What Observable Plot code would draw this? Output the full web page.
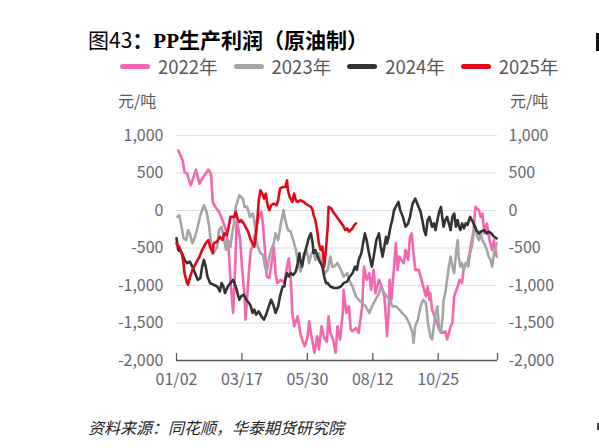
<!DOCTYPE html>
<html>
<head>
<meta charset="utf-8">
<script src="https://cdn.jsdelivr.net/npm/d3@7"></script>
<script src="https://cdn.jsdelivr.net/npm/@observablehq/plot@0.6"></script>
<style>
  html, body { margin: 0; padding: 0; background: #fff; }
  body { width: 599px; height: 448px; position: relative; overflow: hidden;
         font-family: "Noto Sans CJK SC", "Noto Sans", sans-serif; }
  .abs { position: absolute; white-space: nowrap; }
  #title { left: 88px; top: 26px; font-size: 21px; line-height: 27px; color: #000; }
  #title b { font-weight: 700; }
  #title .pp { font-family: "Liberation Serif", serif; font-weight: 700; }
  #legend { left: 120px; top: 54px; display: flex; gap: 16px; font-size: 18.5px; line-height: 24px; color: #595959; }
  #legend .item { display: flex; align-items: center; }
  #legend .sw { width: 30px; height: 5px; border-radius: 3px; margin-right: 8px; }
  .unit { top: 89px; font-size: 16px; line-height: 22px; color: #595959; }
  #source { left: 88px; top: 416px; font-size: 16px; line-height: 22px; font-style: italic; color: #222; }
  #chart { left: 0; top: 120px; }
  .edge { position: absolute; background: #111; }
</style>
</head>
<body>
<div id="title" class="abs">图43<b>：</b><span class="pp">PP</span><b>生产利润（原油制）</b></div>
<div id="legend" class="abs"></div>
<div class="abs unit" style="left:118px">元/吨</div>
<div class="abs unit" style="left:510px">元/吨</div>
<div id="chart" class="abs"></div>
<div id="source" class="abs">资料来源：同花顺，华泰期货研究院</div>
<div class="edge" style="left:596px; top:33px; width:3px; height:18px;"></div>
<div class="edge" style="left:597px; top:423px; width:2px; height:7px; background:#444;"></div>
<script>
// [day of year, 元/吨]
const p2022 = [[4,800],[9,667],[11,512],[14,495],[18,335],[24,544],[28,358],[31,424],[38,544],[41,490],[43,114],[46,48],[50,-18],[54,-129],[58,-261],[61,-527],[63,-924],[66,-1366],[68,-880],[70,-150],[72,-250],[74,-394],[76,-748],[79,-1146],[80,-1455],[82,-1146],[84,-792],[86,-527],[88,-480],[94,-129],[98,-18],[100,-217],[102,-527],[104,-880],[107,-900],[109,-748],[112,-483],[114,-836],[116,-968],[120,-924],[124,-968],[127,-748],[129,-637],[131,-880],[133,-1366],[135,-1544],[139,-1411],[142,-1631],[144,-1720],[147,-1809],[150,-1700],[152,-1477],[155,-1700],[158,-1897],[161,-1676],[163,-1853],[166,-1544],[169,-1700],[172,-1750],[174,-1411],[176,-1631],[179,-1720],[182,-1897],[184,-1544],[187,-1720],[190,-1366],[191,-1057],[194,-1366],[197,-1278],[199,-1587],[201,-1610],[205,-1565],[208,-1631],[212,-1278],[214,-748],[217,-924],[220,-836],[222,-1057],[225,-792],[227,-1101],[231,-924],[234,-1013],[237,-1146],[239,-1455],[240,-1676],[242,-1366],[243,-924],[245,-1190],[248,-748],[250,-438],[252,-792],[254,-615],[256,-659],[259,-703],[261,-527],[264,-659],[266,-350],[268,-305],[270,-570],[272,-792],[276,-792],[280,-968],[284,-1146],[286,-1013],[288,-1190],[289,-1101],[291,-1322],[295,-1455],[299,-1587],[303,-1631],[306,-1610],[308,-1720],[312,-1544],[314,-1499],[316,-1146],[320,-1013],[322,-924],[325,-968],[327,-748],[331,-703],[334,-527],[338,-261],[340,48],[344,4],[346,-85],[348,-40],[350,-305],[353,-172],[356,-394],[359,-527],[361,-394],[364,-615]];
const p2023 = [[3,-85],[5,-62],[7,-172],[10,-371],[13,-394],[15,-261],[17,-305],[20,-438],[23,-350],[26,-217],[29,-62],[33,70],[36,-18],[39,-217],[41,-438],[43,-549],[44,-570],[48,-483],[50,-261],[53,-217],[56,-394],[58,-527],[60,-394],[63,-483],[65,-305],[67,-172],[69,48],[73,203],[77,158],[79,48],[82,48],[85,-85],[88,-40],[90,-129],[92,-394],[94,-483],[97,-570],[100,-593],[102,-748],[104,-814],[107,-615],[109,-527],[112,-438],[114,-305],[117,-394],[120,-172],[123,4],[125,-129],[128,-261],[131,-283],[134,-394],[137,-527],[139,-659],[142,-814],[144,-748],[146,-570],[149,-527],[152,-703],[154,-593],[157,-527],[159,-659],[163,-570],[167,-748],[170,-836],[173,-792],[176,-615],[178,-748],[180,-748],[184,-703],[188,-792],[191,-880],[195,-836],[197,-924],[201,-1013],[205,-1146],[208,-1190],[212,-1233],[216,-1278],[220,-1366],[223,-1278],[227,-1190],[231,-1101],[233,-1013],[237,-1101],[240,-1146],[243,-1190],[246,-1278],[250,-1278],[254,-1322],[257,-1366],[261,-1411],[265,-1499],[269,-1631],[270,-1764],[272,-1544],[275,-1455],[278,-1278],[281,-1190],[284,-1233],[286,-1455],[287,-1544],[289,-1676],[291,-1720],[293,-1544],[295,-1366],[297,-1278],[299,-1587],[301,-1631],[303,-1411],[304,-1190],[306,-1101],[308,-924],[310,-748],[312,-615],[314,-748],[316,-836],[318,-570],[320,-394],[321,-615],[323,-748],[325,-703],[327,-792],[329,-703],[332,-748],[334,-570],[336,-483],[338,-305],[340,-217],[342,-350],[344,-394],[346,-305],[348,-394],[350,-438],[353,-527],[355,-615],[357,-659],[359,-748],[361,-570],[364,-438]];
const p2024 = [[2,-371],[4,-527],[7,-549],[9,-593],[11,-659],[14,-703],[17,-681],[20,-748],[23,-836],[26,-924],[29,-902],[31,-748],[33,-659],[35,-748],[37,-880],[40,-968],[44,-990],[48,-1013],[51,-1080],[53,-968],[55,-1013],[57,-1101],[60,-1013],[63,-968],[66,-924],[69,-1013],[71,-1101],[73,-1190],[75,-1146],[78,-1123],[81,-1190],[84,-1233],[86,-1278],[88,-1366],[90,-1322],[92,-1389],[95,-1345],[98,-1411],[101,-1455],[104,-1366],[107,-1256],[109,-1190],[112,-1278],[114,-1366],[117,-1278],[119,-1146],[122,-1013],[124,-1013],[125,-924],[127,-836],[129,-880],[131,-836],[134,-858],[137,-814],[139,-703],[141,-570],[142,-659],[144,-748],[146,-615],[148,-527],[150,-438],[152,-350],[154,-305],[156,-438],[157,-570],[159,-527],[161,-593],[163,-659],[165,-703],[167,-748],[169,-880],[171,-968],[173,-968],[176,-1013],[180,-1034],[184,-1034],[188,-1013],[191,-968],[195,-947],[198,-880],[201,-836],[204,-748],[206,-792],[208,-659],[211,-570],[213,-438],[215,-305],[217,-394],[219,-527],[222,-703],[223,-748],[225,-615],[228,-394],[231,-305],[233,-483],[235,-615],[237,-483],[239,-350],[240,-438],[242,-350],[244,-217],[246,-129],[248,4],[250,48],[253,114],[255,4],[258,-85],[261,-217],[264,-172],[266,-85],[269,92],[271,136],[272,158],[275,70],[278,-18],[280,-129],[282,-261],[284,-328],[286,-129],[288,-85],[289,-129],[291,-217],[293,-172],[295,-261],[297,-129],[299,-18],[301,48],[303,-129],[304,-217],[306,-129],[308,-85],[310,-172],[312,-261],[314,-85],[316,-40],[318,-217],[320,-129],[321,-195],[323,-261],[325,-172],[327,-239],[329,-172],[331,-195],[334,-85],[336,-129],[338,-172],[341,-261],[344,-305],[346,-283],[350,-261],[353,-305],[355,-283],[358,-305],[361,-350],[364,-371]];
const p2025 = [[2,-438],[5,-483],[8,-570],[10,-703],[11,-836],[14,-968],[15,-990],[17,-902],[20,-792],[24,-703],[28,-615],[31,-527],[35,-438],[38,-394],[40,-483],[43,-570],[44,-438],[48,-416],[51,-350],[54,-394],[56,-305],[59,-328],[61,-217],[63,-85],[67,-85],[69,-18],[71,-107],[73,-151],[75,-129],[78,-172],[80,-217],[83,-283],[86,-394],[88,-438],[90,-483],[92,-305],[94,-40],[95,136],[97,269],[99,225],[101,158],[103,225],[105,70],[107,4],[109,70],[112,92],[115,70],[117,136],[119,291],[122,313],[125,313],[127,402],[128,269],[130,180],[133,114],[135,225],[137,136],[139,114],[142,136],[146,114],[148,92],[151,70],[154,48],[156,4],[157,-62],[159,-129],[161,-261],[163,-438],[165,-527],[167,-483],[169,-750],[171,-527],[173,-217],[174,48],[177,27],[179,-18],[182,-62],[186,-129],[190,-195],[193,-261],[195,-239],[197,-283],[199,-261],[201,-239],[203,-195],[205,-172]];

const seriesNames = ["2022年", "2023年", "2024年", "2025年"];
const seriesColors = ["#f466ad", "#a5a5a5", "#333333", "#e10919"];
const seriesData = [p2022, p2023, p2024, p2025];

const yTicks = [1000, 500, 0, -500, -1000, -1500, -2000];
const xTickDays = [2, 76, 150, 224, 298, 365];
const xTickLabels = ["01/02", "03/17", "05/30", "08/12", "10/25", ""];

const toDate = d => new Date(2023, 0, d);
const fmt = d3.formatLocale({decimal: ".", thousands: ",", grouping: [3], currency: ["", ""], minus: "-"}).format(",");

const legend = d3.select("#legend");
seriesNames.forEach((name, i) => {
  const item = legend.append("div").attr("class", "item");
  item.append("div").attr("class", "sw").style("background", seriesColors[i]);
  item.append("span").text(name);
});

const rows = seriesData.flatMap((s, i) => s.map(([d, v]) => ({date: toDate(d), value: v, year: seriesNames[i]})));
const xTicks = xTickDays.map(toDate);

const chart = Plot.plot({
  width: 599,
  height: 280,
  marginLeft: 176,
  marginRight: 102,
  marginTop: 15,
  marginBottom: 40,
  style: {fontFamily: '"Noto Sans CJK SC", "Noto Sans", sans-serif', fontSize: "16px", color: "#666670", background: "transparent"},
  x: {type: "time", domain: [toDate(2), toDate(365)]},
  y: {domain: [-2000, 1000]},
  color: {domain: seriesNames, range: seriesColors},
  marks: [
    Plot.gridY(yTicks.slice(0, -1), {stroke: "#d9dcea", strokeOpacity: 1, strokeWidth: 1}),
    Plot.axisY(yTicks, {anchor: "left", tickSize: 0, tickPadding: 13, tickFormat: fmt, label: null}),
    Plot.axisY(yTicks, {anchor: "right", tickSize: 0, tickPadding: 11, tickFormat: fmt, label: null}),
    Plot.ruleY([-2000], {stroke: "#595959", strokeWidth: 1.3}),
    Plot.axisX(xTicks, {anchor: "bottom", tickSize: -7, tickPadding: 20, stroke: "#595959", strokeWidth: 1.3,
      tickFormat: (d, i) => xTickLabels[i], label: null}),
    Plot.line(rows, {x: "date", y: "value", z: "year", stroke: "year", strokeWidth: 2.6, strokeLinejoin: "round"})
  ]
});
document.getElementById("chart").append(chart);
</script>
</body>
</html>
